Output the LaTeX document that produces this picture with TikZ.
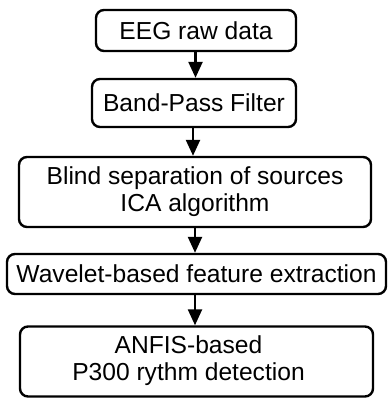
\documentclass[tikz,border=0pt]{standalone}
\usepackage{fontspec}
\setmainfont{Liberation Sans}
\usetikzlibrary{arrows.meta}
\tikzset{
  box/.style={draw, line width=2.4pt, rounded corners=8pt, inner sep=0pt, align=center,
    font=\fontsize{24.6}{27}\selectfont},
  arr/.style={line width=2.4pt, -{Triangle[length=16pt,width=14pt]}}
}
\begin{document}
\begin{tikzpicture}[x=1pt,y=1pt]
\useasboundingbox (0,0) rectangle (388,398);
\node[box, minimum width=200pt, minimum height=41pt] (b1) at (196,367.5) {EEG raw data};
\node[box, minimum width=204pt, minimum height=48pt] (b2) at (194,295) {Band-Pass Filter};
\node[box, minimum width=352pt, minimum height=70pt] (b3) at (195,206) {Blind separation of sources\\ICA algorithm};
\node[box, minimum width=379pt, minimum height=40pt] (b4) at (196.5,124) {Wavelet-based feature extraction};
\node[box, minimum width=353pt, minimum height=70pt] (b5) at (196.5,36.5)
  {\hspace*{-16pt}\begin{tabular}{@{}c@{}}ANFIS-based\\P300 rythm detection\end{tabular}};
\coordinate (x1) at (195.5,0);
\coordinate (x2) at (193,0);
\coordinate (x3) at (195,0);
\coordinate (x4) at (195,0);
\draw[arr] (b1.south -| x1) -- (b2.north -| x1);
\draw[arr] (b2.south -| x2) -- (b3.north -| x2);
\draw[arr] (b3.south -| x3) -- (b4.north -| x3);
\draw[arr] (b4.south -| x4) -- (b5.north -| x4);
\end{tikzpicture}
\end{document}
